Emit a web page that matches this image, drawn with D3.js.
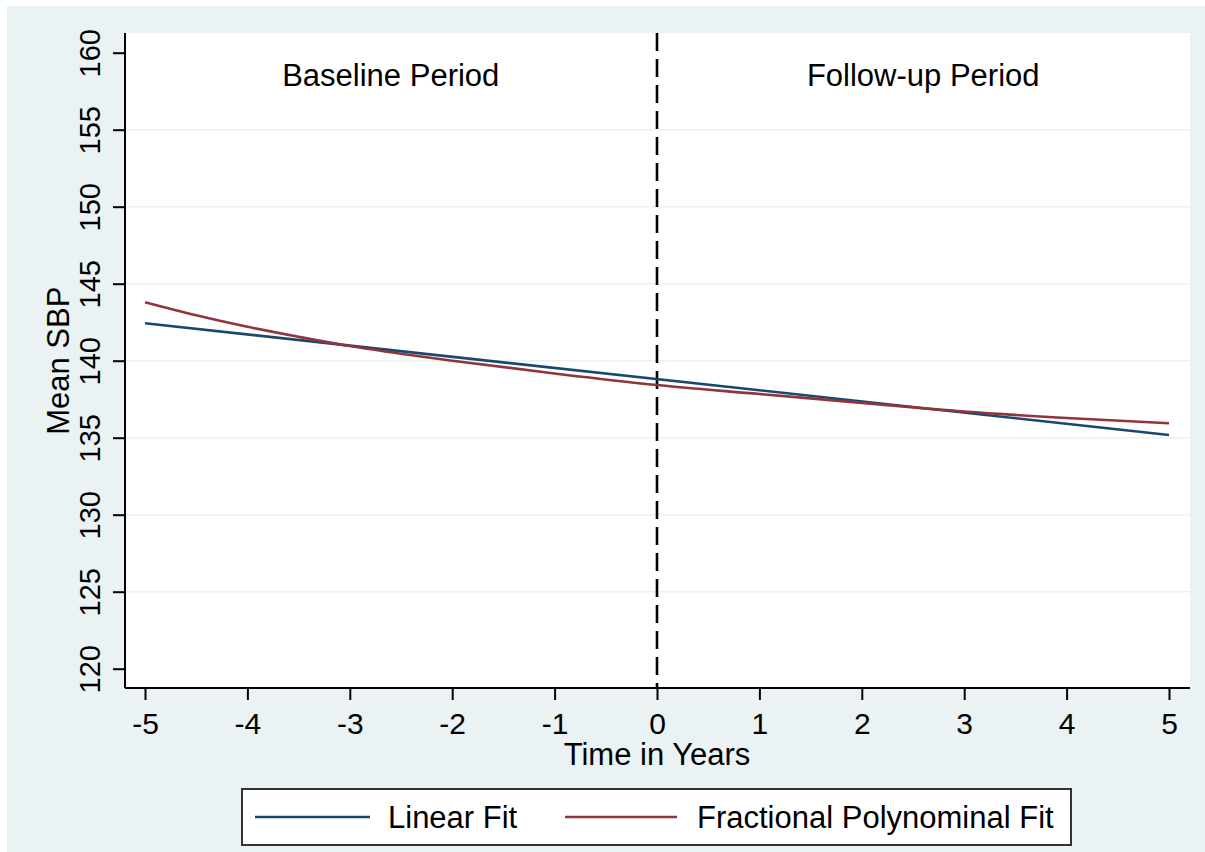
<!DOCTYPE html>
<html>
<head>
<meta charset="utf-8">
<script src="https://cdn.jsdelivr.net/npm/d3@7"></script>
<style>
    body { margin: 0; background: #ffffff; }
    text { font-family: Arial, "Liberation Sans", sans-serif; fill: #000; }
</style>
</head>
<body>
<script>
// chart data
var xTicks = [-5, -4, -3, -2, -1, 0, 1, 2, 3, 4, 5];
var yTicks = [120, 125, 130, 135, 140, 145, 150, 155, 160];
var gridTicks = [125, 130, 135, 140, 145, 150, 155];

var linearTime = [-5, 5];
var linearSBP = [142.43, 135.18];

var fpTime = [-5, -4.5, -4, -3.5, -3, -2.5, -2, -1, 0, 1, 2, 3, 4, 5];
var fpSBP = [143.80, 142.95, 142.2, 141.55, 140.95, 140.45, 140.0, 139.17, 138.42, 137.84, 137.26, 136.70, 136.28, 135.94];

var seriesNames = ["Linear Fit", "Fractional Polynominal Fit"];
var seriesColors = ["#1a476f", "#90353b"];
var periodLabels = ["Baseline Period", "Follow-up Period"];
var periodAt = [-2.6, 2.6];

function init() {
    var W = 1205, H = 852;
    var left = 125, right = 1190, top = 33, bottom = 688;

    var svg = d3.select("body").append("svg")
        .attr("width", W)
        .attr("height", H);

    // outer background
    svg.append("rect")
        .attr("x", 7).attr("y", 6)
        .attr("width", W - 7).attr("height", H - 6)
        .attr("fill", "#eaf2f3");

    // plot region
    svg.append("rect")
        .attr("x", left).attr("y", top)
        .attr("width", right - left).attr("height", bottom - top)
        .attr("fill", "#ffffff");

    var x = d3.scaleLinear().domain([-5, 5]).range([145, 1169]);
    var y = d3.scaleLinear().domain([120, 160]).range([668.7, 52.7]);

    // gridlines
    svg.append("g").selectAll("line")
        .data(gridTicks)
        .enter().append("line")
        .attr("x1", left).attr("x2", right)
        .attr("y1", function (d) { return y(d); })
        .attr("y2", function (d) { return y(d); })
        .attr("stroke", "#eaf2f3")
        .attr("stroke-width", 1.5);

    // y axis
    var yAxis = svg.append("g")
        .attr("transform", "translate(" + left + ",0)")
        .call(d3.axisLeft(y).tickValues(yTicks).tickSize(12).tickSizeOuter(0).tickFormat(d3.format("d")));
    yAxis.select(".domain").attr("d", "M0," + top + "V" + bottom).attr("stroke", "#000").attr("stroke-width", 2);
    yAxis.selectAll(".tick line").attr("stroke", "#000").attr("stroke-width", 2);
    yAxis.selectAll(".tick text")
        .attr("x", 0).attr("dy", 0)
        .attr("transform", "translate(-25,0) rotate(-90)")
        .attr("text-anchor", "middle")
        .style("font-size", "29px");

    // x axis
    var xAxis = svg.append("g")
        .attr("transform", "translate(0," + bottom + ")")
        .call(d3.axisBottom(x).tickValues(xTicks).tickSize(12).tickSizeOuter(0).tickFormat(d3.format("d")));
    xAxis.select(".domain").attr("d", "M" + left + ",0H" + right).attr("stroke", "#000").attr("stroke-width", 2);
    xAxis.selectAll(".tick line").attr("stroke", "#000").attr("stroke-width", 2);
    xAxis.selectAll(".tick text")
        .attr("y", 46).attr("dy", 0)
        .style("font-size", "30px")
        .text(function (d) { return d < 0 ? "-" + Math.abs(d) : d; });

    // axis titles
    svg.append("text")
        .attr("transform", "translate(69," + y(140) + ") rotate(-90)")
        .attr("text-anchor", "middle")
        .style("font-size", "31px")
        .text("Mean SBP");
    svg.append("text")
        .attr("x", x(0)).attr("y", 765)
        .attr("text-anchor", "middle")
        .style("font-size", "31px")
        .text("Time in Years");

    // vertical dashed line at 0
    svg.append("line")
        .attr("x1", x(0)).attr("x2", x(0))
        .attr("y1", top).attr("y2", bottom)
        .attr("stroke", "#000")
        .attr("stroke-width", 2.6)
        .attr("stroke-dasharray", "18,8");

    // period labels
    svg.selectAll(".period")
        .data(periodLabels)
        .enter().append("text")
        .attr("class", "period")
        .attr("x", function (d, i) { return x(periodAt[i]); })
        .attr("y", 86)
        .attr("text-anchor", "middle")
        .style("font-size", "31px")
        .text(function (d) { return d; });

    var line = d3.line()
        .x(function (d) { return x(d[0]); })
        .y(function (d) { return y(d[1]); })
        .curve(d3.curveMonotoneX);

    var linearData = d3.zip(linearTime, linearSBP);
    var fpData = d3.zip(fpTime, fpSBP);

    svg.append("path")
        .datum(linearData)
        .attr("d", line)
        .attr("fill", "none")
        .attr("stroke", seriesColors[0])
        .attr("stroke-width", 2.6);

    svg.append("path")
        .datum(fpData)
        .attr("d", line)
        .attr("fill", "none")
        .attr("stroke", seriesColors[1])
        .attr("stroke-width", 2.6);

    // legend
    var legend = svg.append("g");
    legend.append("rect")
        .attr("x", 242).attr("y", 789)
        .attr("width", 829).attr("height", 56)
        .attr("fill", "#ffffff")
        .attr("stroke", "#333")
        .attr("stroke-width", 2);

    var lineStart = [255, 565];
    var lineEnd = [370, 677];
    var textStart = [388, 697];

    seriesNames.forEach(function (name, i) {
        legend.append("line")
            .attr("x1", lineStart[i]).attr("x2", lineEnd[i])
            .attr("y1", 817).attr("y2", 817)
            .attr("stroke", seriesColors[i])
            .attr("stroke-width", 2.6);
        legend.append("text")
            .attr("x", textStart[i]).attr("y", 828)
            .style("font-size", "31px")
            .text(name);
    });
}
window.onload = init;
</script>
</body>
</html>
